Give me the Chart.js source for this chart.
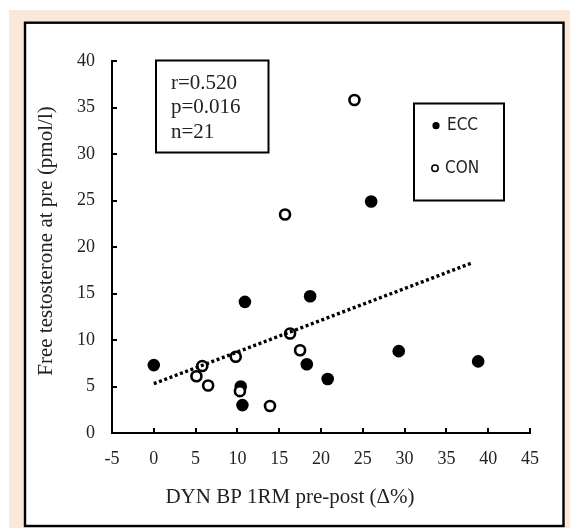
<!DOCTYPE html>
<html>
<head>
<meta charset="utf-8">
<script src="https://cdn.jsdelivr.net/npm/chart.js@4.4.0/dist/chart.umd.min.js"></script>
<style>
  body { margin: 0; background: #fff; }
  canvas { display: block; }
</style>
</head>
<body>
<canvas id="scatterCanvas" width="570" height="528"></canvas>
<script>
// données
const eccX = [0, 10.9, 18.7, 26.0, 18.3, 20.8, 29.3, 38.8, 10.4, 10.6];
const eccY = [7.3, 14.1, 14.7, 24.9, 7.4, 5.8, 8.8, 7.7, 5.0, 3.0];
const conX = [24.0, 15.7, 16.3, 17.5, 9.8, 5.8, 5.1, 6.5, 10.3, 13.9];
const conY = [35.8, 23.5, 10.7, 8.9, 8.2, 7.2, 6.1, 5.1, 4.5, 2.9];
const trendX = [0, 38.1];
const trendY = [5.3, 18.3];

const xTicks = [-5, 0, 5, 10, 15, 20, 25, 30, 35, 40, 45];
const yTicks = [0, 5, 10, 15, 20, 25, 30, 35, 40];

const statsLines = ["r=0.520", "p=0.016", "n=21"];
const xTitle = "DYN BP 1RM pre-post (\u0394%)";
const yTitle = "Free testosterone at pre (pmol/l)";

const serif = '"Liberation Serif", "Times New Roman", serif';
const sans = '"Liberation Sans Narrow", "DejaVu Sans Condensed", "Liberation Sans", sans-serif';

const toPoints = (xs, ys) => xs.map((x, i) => ({ x: x, y: ys[i] }));

const framePlugin = {
  id: "frame",
  beforeDraw: (chart) => {
    const ctx = chart.ctx;
    ctx.save();
    ctx.fillStyle = "#ffffff";
    ctx.fillRect(0, 0, 570, 528);
    ctx.fillStyle = "#fce8d9";
    ctx.fillRect(9, 10, 561, 518);
    ctx.fillStyle = "#ffffff";
    ctx.fillRect(25, 23, 538, 503);
    ctx.strokeStyle = "#000";
    ctx.lineWidth = 2.4;
    ctx.strokeRect(25, 22.7, 538.5, 503.3);
    ctx.restore();
  },
  afterDraw: (chart) => {
    const ctx = chart.ctx;
    ctx.save();
    ctx.fillStyle = "#222";

    // titres des axes
    ctx.font = "21px " + serif;
    ctx.textAlign = "center";
    ctx.textBaseline = "middle";
    ctx.fillText(xTitle, 290, 497);
    ctx.translate(46, 241);
    ctx.rotate(-Math.PI / 2);
    ctx.fillText(yTitle, 0, 0);
    ctx.setTransform(1, 0, 0, 1, 0, 0);

    // encadré statistique
    ctx.strokeStyle = "#000";
    ctx.lineWidth = 2;
    ctx.strokeRect(156, 60.5, 112.5, 92);
    ctx.font = "21px " + serif;
    ctx.textAlign = "left";
    statsLines.forEach((line, i) => {
      ctx.fillText(line, 171, 83 + i * 24.5);
    });

    // légende
    ctx.strokeRect(414, 103.5, 90, 97);
    const ds = chart.data.datasets;
    const ecc = ds.find((d) => d.label === "ECC");
    const con = ds.find((d) => d.label === "CON");
    ctx.font = "17px " + sans;
    ctx.beginPath();
    ctx.arc(436, 125.7, 3.6, 0, Math.PI * 2);
    ctx.fillStyle = ecc.backgroundColor;
    ctx.fill();
    ctx.fillStyle = "#222";
    ctx.fillText(ecc.label, 447, 126);
    ctx.beginPath();
    ctx.arc(435, 168.3, 3.2, 0, Math.PI * 2);
    ctx.fillStyle = "#fff";
    ctx.fill();
    ctx.lineWidth = 1.5;
    ctx.stroke();
    ctx.fillStyle = "#222";
    ctx.fillText(con.label, 445, 168.5);
    ctx.restore();
  },
};

const scatterChart = new Chart(document.getElementById("scatterCanvas"), {
  type: "scatter",
  data: {
    datasets: [
      {
        label: "trend",
        data: toPoints(trendX, trendY),
        showLine: true,
        borderColor: "#000",
        borderWidth: 3.4,
        borderDash: [3, 2.6],
        pointRadius: 0,
        order: 0,
      },
      {
        label: "CON",
        data: toPoints(conX, conY),
        backgroundColor: "#fff",
        borderColor: "#000",
        borderWidth: 2.6,
        pointRadius: 5,
        order: 1,
      },
      {
        label: "ECC",
        data: toPoints(eccX, eccY),
        backgroundColor: "#000",
        borderColor: "#000",
        borderWidth: 0,
        pointRadius: 6.3,
        order: 2,
      },
    ],
  },
  options: {
    responsive: false,
    animation: false,
    events: [],
    layout: { padding: { left: 0, top: 61, right: 40, bottom: 0 } },
    plugins: {
      legend: { display: false },
      tooltip: { enabled: false },
    },
    scales: {
      x: {
        min: xTicks[0],
        max: xTicks[xTicks.length - 1],
        afterFit: (scale) => {
          scale.height = 95;
        },
        afterBuildTicks: (scale) => {
          scale.ticks = xTicks.map((v) => ({ value: v }));
        },
        border: { display: true, color: "#000", width: 2 },
        grid: {
          drawOnChartArea: false,
          drawTicks: true,
          tickLength: -5,
          color: "#000",
          lineWidth: 2,
        },
        ticks: {
          padding: 20,
          color: "#222",
          font: { family: serif, size: 18 },
          maxRotation: 0,
        },
      },
      y: {
        min: yTicks[0],
        max: yTicks[yTicks.length - 1],
        afterFit: (scale) => {
          scale.width = 112;
        },
        afterBuildTicks: (scale) => {
          scale.ticks = yTicks.map((v) => ({ value: v }));
        },
        border: { display: true, color: "#000", width: 2 },
        grid: {
          drawOnChartArea: false,
          drawTicks: true,
          tickLength: -5,
          color: "#000",
          lineWidth: 2,
        },
        ticks: {
          padding: 22,
          color: "#222",
          font: { family: serif, size: 18 },
        },
      },
    },
  },
  plugins: [framePlugin],
});
</script>
</body>
</html>
